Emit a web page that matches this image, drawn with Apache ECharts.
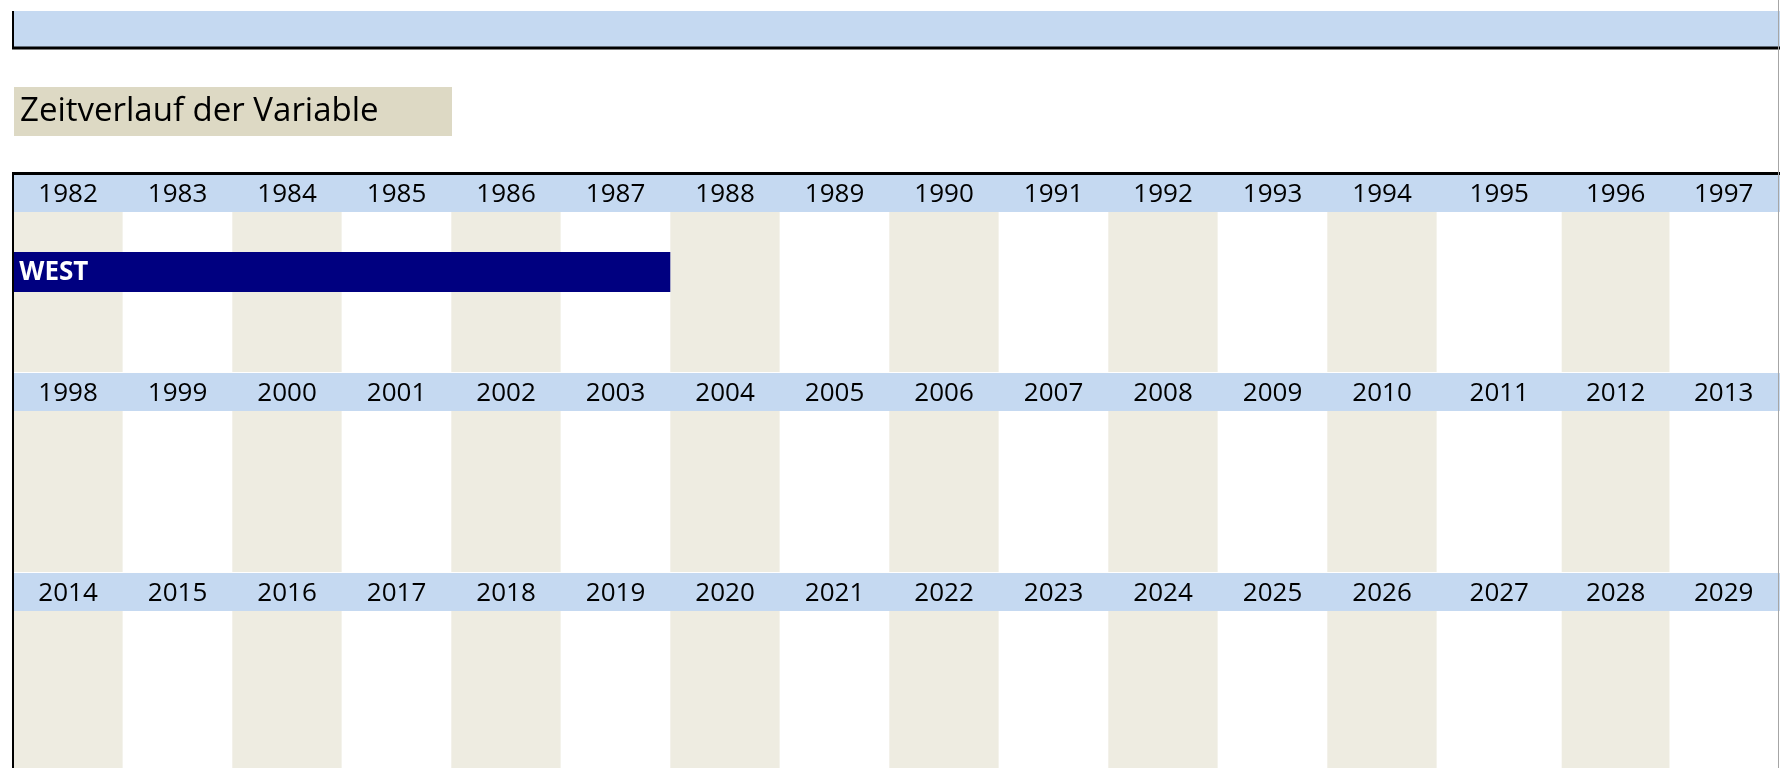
<!DOCTYPE html>
<html>
<head>
<meta charset="utf-8">
<script src="https://cdn.jsdelivr.net/npm/echarts@6/dist/echarts.min.js"></script>
<style>
  html, body { margin: 0; padding: 0; background: #fff; }
  #chart { width: 1780px; height: 768px; }
</style>
</head>
<body>
<div id="chart"></div>
<script>
// Jahreszeilen (je 16 Jahre)
var years1 = ['1982','1983','1984','1985','1986','1987','1988','1989','1990','1991','1992','1993','1994','1995','1996','1997'];
var years2 = ['1998','1999','2000','2001','2002','2003','2004','2005','2006','2007','2008','2009','2010','2011','2012','2013'];
var years3 = ['2014','2015','2016','2017','2018','2019','2020','2021','2022','2023','2024','2025','2026','2027','2028','2029'];

// Zeiträume
var periodNames = ['WEST'];
var periodStart = ['1982'];
var periodEnd = ['1987'];
var periodLane = [1];

var titleText = 'Zeitverlauf der Variable';

var FONT = 'Open Sans';
var headBlue = '#C5D9F1';
var shade = '#EEECE1';

var rows = [years1, years2, years3];
var gridTops = [212, 411, 611];
var gridHeights = [160, 161, 157];
// Spalten sind nicht alle gleich breit (14. Spalte breiter) -> Zeile in 3 Abschnitte
var segCols = [13, 1, 2];
var segEdges = [13.3, 1436.8, 1561.7, 1777.7];

var myChart = echarts.init(document.getElementById('chart'));

var grids = [], xAxes = [], yAxes = [];
var g = 0;
for (var i = 0; i < rows.length; i++) {
    var start = 0;
    for (var s = 0; s < segCols.length; s++) {
        grids.push({
            left: segEdges[s],
            right: 1780 - segEdges[s + 1],
            top: gridTops[i],
            height: gridHeights[i]
        });
        xAxes.push({
            type: 'category',
            gridIndex: g,
            position: 'top',
            data: rows[i].slice(start, start + segCols[s]),
            boundaryGap: true,
            z: 2,
            axisLine: { show: false },
            axisTick: { show: false },
            axisLabel: {
                interval: 0,
                margin: 17,
                verticalAlign: 'middle',
                color: '#000',
                fontFamily: FONT,
                fontSize: 26
            },
            splitLine: { show: false },
            splitArea: {
                show: true,
                areaStyle: { color: start % 2 === 0 ? [shade, '#FFFFFF'] : ['#FFFFFF', shade] }
            }
        });
        yAxes.push({
            type: 'value',
            gridIndex: g,
            min: 0,
            max: 4,
            inverse: true,
            show: false
        });
        start += segCols[s];
        g++;
    }
}

// Balken-Daten aus den Arrays bauen
var barData = [];
for (var k = 0; k < periodNames.length; k++) {
    barData.push([
        years1.indexOf(periodStart[k]),
        years1.indexOf(periodEnd[k]),
        periodLane[k],
        periodNames[k]
    ]);
}

function renderBar(params, api) {
    var lane = api.value(2);
    var s = api.coord([api.value(0), lane]);
    var e = api.coord([api.value(1), lane]);
    var y2 = api.coord([api.value(0), lane + 1])[1];
    var bw = api.size([1, 0])[0];
    var x = s[0] - bw / 2;
    var w = e[0] - s[0] + bw;
    return {
        type: 'group',
        children: [
            {
                type: 'rect',
                shape: { x: x, y: s[1], width: w, height: y2 - s[1] },
                style: { fill: '#000080' }
            },
            {
                type: 'text',
                style: {
                    x: x + 6,
                    y: (s[1] + y2) / 2 + 1,
                    text: api.value(3),
                    fill: '#fff',
                    font: 'bold 26px "' + FONT + '"',
                    verticalAlign: 'middle'
                }
            }
        ]
    };
}

var graphics = [
    { type: 'rect', shape: { x: 14, y: 11, width: 1766, height: 36 }, style: { fill: headBlue }, z: 1 },
    { type: 'line', shape: { x1: 12, y1: 48, x2: 1780, y2: 48 }, style: { stroke: '#000', lineWidth: 3 }, z: 20 },
    { type: 'line', shape: { x1: 13, y1: 11, x2: 13, y2: 49 }, style: { stroke: '#000', lineWidth: 2 }, z: 20 },
    { type: 'rect', shape: { x: 14, y: 87, width: 438, height: 49 }, style: { fill: '#DDD9C4' }, z: 1 },
    { type: 'text', x: 20, y: 112, style: { text: titleText, font: '33px "' + FONT + '"', fill: '#000', verticalAlign: 'middle' }, z: 2 },
    { type: 'line', shape: { x1: 12, y1: 173.5, x2: 1780, y2: 173.5 }, style: { stroke: '#000', lineWidth: 3 }, z: 20 },
    { type: 'line', shape: { x1: 13, y1: 172, x2: 13, y2: 768 }, style: { stroke: '#000', lineWidth: 2 }, z: 20 },
    { type: 'line', shape: { x1: 1778.5, y1: 0, x2: 1778.5, y2: 768 }, style: { stroke: '#A6A6A6', lineWidth: 1 }, z: 20 }
];
for (var j = 0; j < rows.length; j++) {
    graphics.push({
        type: 'rect',
        shape: { x: 14, y: gridTops[j] - 38, width: 1766, height: 38 },
        style: { fill: headBlue },
        z: 1
    });
}

var option = {
    animation: false,
    grid: grids,
    xAxis: xAxes,
    yAxis: yAxes,
    graphic: graphics,
    series: [
        {
            type: 'custom',
            xAxisIndex: 0,
            yAxisIndex: 0,
            renderItem: renderBar,
            data: barData,
            z: 5
        }
    ]
};

myChart.setOption(option);

window.onresize = function () {
    myChart.resize();
};
</script>
</body>
</html>
